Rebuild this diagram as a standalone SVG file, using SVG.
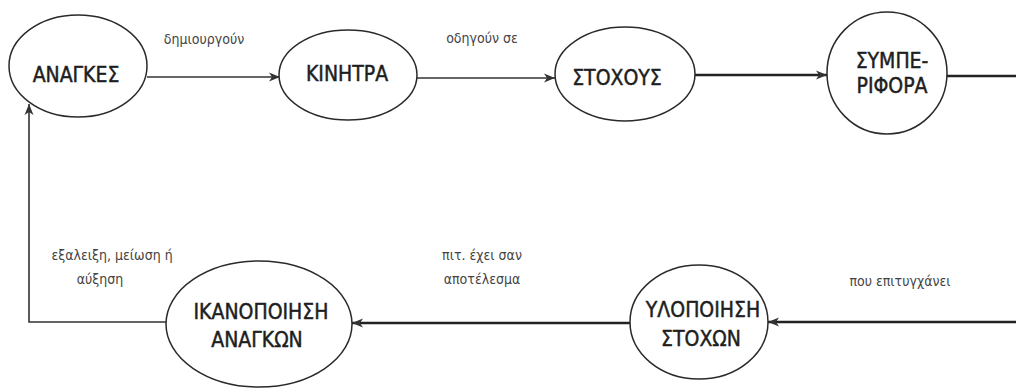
<svg xmlns="http://www.w3.org/2000/svg" width="1016" height="391" viewBox="0 0 1016 391">
<defs>
<marker id="ah" markerUnits="userSpaceOnUse" markerWidth="12" markerHeight="10" refX="11" refY="5" orient="auto">
<path d="M0,0.5 L11,5 L0,9.5 L3,5 Z" fill="#333"/>
</marker>
<style>
.node ellipse{fill:#fff;stroke:#2a2a2a;stroke-width:1.5}
.nt{font-family:"DejaVu Sans Condensed","DejaVu Sans",sans-serif;font-stretch:condensed;font-size:21px;fill:#1e1e1e;stroke:#1e1e1e;stroke-width:0.45;text-anchor:middle}
.lb{font-family:"DejaVu Sans Condensed","DejaVu Sans",sans-serif;font-stretch:condensed;font-size:14px;fill:#444;text-anchor:middle}
.thin{fill:none;stroke:#333;stroke-width:1.6}
.thick{fill:none;stroke:#222;stroke-width:2.6}
</style>
</defs>
<rect width="1016" height="391" fill="#fff"/>
<g id="connectors">
<line class="thin" x1="147" y1="77" x2="280" y2="77" marker-end="url(#ah)"/>
<line class="thin" x1="417" y1="78" x2="555" y2="78" marker-end="url(#ah)"/>
<line class="thick" x1="695" y1="75" x2="827" y2="75" marker-end="url(#ah)"/>
<line class="thick" x1="947" y1="76" x2="1016" y2="76"/>
<line class="thick" x1="1016" y1="322" x2="768" y2="322" marker-end="url(#ah)"/>
<line class="thick" x1="630" y1="323" x2="352" y2="323" marker-end="url(#ah)"/>
<polyline class="thin" points="166,322 29,322 29,104" marker-end="url(#ah)"/>
<text class="lb" x="204" y="44">δημιουργούν</text>
<text class="lb" x="482" y="43">οδηγούν σε</text>
<text class="lb" x="112" y="260">εξαλειξη, μείωση ή</text>
<text class="lb" x="100" y="284">αύξηση</text>
<text class="lb" x="482" y="260">πιτ. έχει σαν</text>
<text class="lb" x="482" y="284">αποτέλεσμα</text>
<text class="lb" x="900" y="286">που επιτυγχάνει</text>
</g>
<g id="node-anagkes" class="node">
<ellipse cx="78" cy="66" rx="69" ry="51"/>
<text class="nt" x="76" y="82">ΑΝΑΓΚΕΣ</text>
</g>
<g id="node-kinitra" class="node">
<ellipse cx="348" cy="75" rx="69" ry="45"/>
<text class="nt" x="347" y="81">ΚΙΝΗΤΡΑ</text>
</g>
<g id="node-stoxous" class="node">
<ellipse cx="625" cy="74" rx="70" ry="47"/>
<text class="nt" x="617" y="85">ΣΤΟΧΟΥΣ</text>
</g>
<g id="node-symperifora" class="node">
<ellipse cx="887" cy="73" rx="60" ry="61"/>
<text class="nt" x="892" y="68">ΣΥΜΠΕ-</text>
<text class="nt" x="892" y="93">ΡΙΦΟΡΑ</text>
</g>
<g id="node-ikanopoiisi" class="node">
<ellipse cx="259" cy="324" rx="93" ry="63"/>
<text class="nt" x="261" y="319">ΙΚΑΝΟΠΟΙΗΣΗ</text>
<text class="nt" x="257" y="347">ΑΝΑΓΚΩΝ</text>
</g>
<g id="node-ylopoiisi" class="node">
<ellipse cx="699" cy="322" rx="69" ry="57"/>
<text class="nt" x="703" y="317">ΥΛΟΠΟΙΗΣΗ</text>
<text class="nt" x="701" y="346">ΣΤΟΧΩΝ</text>
</g>
</svg>
